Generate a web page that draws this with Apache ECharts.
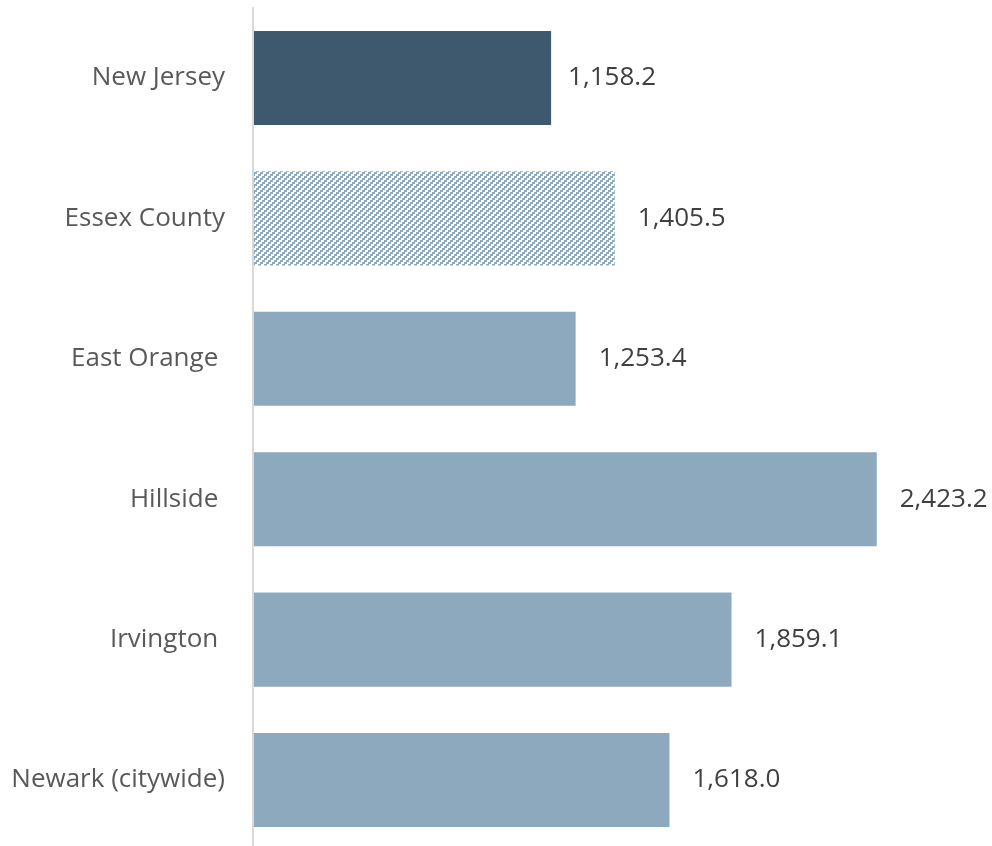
<!DOCTYPE html>
<html>
<head>
<meta charset="utf-8">
<script src="https://cdn.jsdelivr.net/npm/echarts@6/dist/echarts.min.js"></script>
<style>
  html, body { margin: 0; padding: 0; background: #ffffff; overflow: hidden; }
  #chart { width: 992px; height: 856px; }
</style>
</head>
<body>
<div id="chart"></div>
<script>
// Rates by area (trailing spaces keep the original label alignment)
const categories = ['New Jersey', 'Essex County', 'East Orange ', 'Hillside ', 'Irvington ', 'Newark (citywide)'];
const values = [1158.2, 1405.5, 1253.4, 2423.2, 1859.1, 1618.0];

const DARK = '#3E596D';
const LIGHT = '#8DA9BD';

// Diagonal ("/") hatch tile for the county bar, drawn as 2px stair steps
function hatchTile() {
  const size = 6;
  const c = document.createElement('canvas');
  c.width = size; c.height = size;
  const g = c.getContext('2d');
  g.fillStyle = '#ffffff';
  g.fillRect(0, 0, size, size);
  g.fillStyle = LIGHT;
  for (let y = 0; y < size; y++) {
    const shift = 2 * Math.floor(y / 2);
    for (let x = 0; x < size; x++) {
      if ((x + shift) % size < 3) g.fillRect(x, y, 1, 1);
    }
  }
  return c;
}

const fmt = v => v.toLocaleString('en-US', { minimumFractionDigits: 1, maximumFractionDigits: 1 });

const seriesData = values.map((v, i) => {
  let color = LIGHT;
  if (i === 0) color = DARK;
  if (i === 1) color = { image: hatchTile(), repeat: 'repeat' };
  return { value: v, itemStyle: { color }, label: { distance: i === 0 ? 17 : 23 } };
});

const chart = echarts.init(document.getElementById('chart'), null, { renderer: 'canvas' });
chart.setOption({
  animation: false,
  backgroundColor: '#ffffff',
  grid: { left: 253, top: 7.8, height: 842.4, width: 2800 * 0.2574, containLabel: false },
  xAxis: {
    type: 'value',
    min: 0,
    max: 2800,
    show: false,
    splitLine: { show: false }
  },
  yAxis: {
    type: 'category',
    data: categories,
    inverse: true,
    z: 3,
    axisLine: { show: true, lineStyle: { color: '#D9D9D9', width: 2 } },
    axisTick: { show: false },
    axisLabel: {
      margin: 28,
      color: '#595959',
      fontFamily: 'Open Sans',
      fontSize: 26
    }
  },
  series: [{
    type: 'bar',
    data: seriesData,
    barCategoryGap: '33%',
    label: {
      show: true,
      position: 'right',
      distance: 23,
      color: '#404040',
      fontFamily: 'Open Sans',
      fontSize: 26,
      formatter: p => fmt(p.value)
    }
  }]
});
</script>
</body>
</html>
